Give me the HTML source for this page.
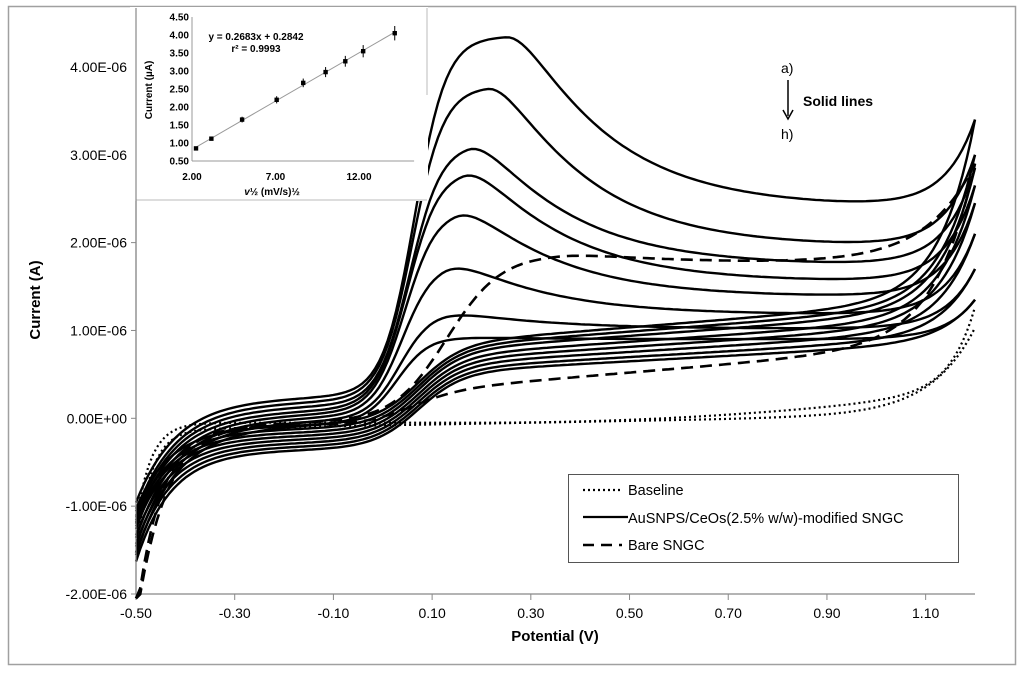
<!DOCTYPE html>
<html><head><meta charset="utf-8"><style>
html,body{margin:0;padding:0;background:#fff;}
svg{display:block;font-family:"Liberation Sans",sans-serif;}
</style></head><body>
<svg id="chart" width="1024" height="674" viewBox="0 0 1024 674" xmlns="http://www.w3.org/2000/svg">
<rect x="8.5" y="6.5" width="1007" height="658" fill="#fff" stroke="#a0a0a0" stroke-width="1.5"/>
<g id="main"></g>
<g id="inset"></g>
<g>
<rect x="568.5" y="474.5" width="390" height="88" fill="#fff" stroke="#555" stroke-width="1"/>
<line x1="583" y1="490" x2="622" y2="490" stroke="#000" stroke-width="2.2" stroke-dasharray="2,3"/>
<text x="628" y="495" font-size="14.5">Baseline</text>
<line x1="583" y1="517" x2="628" y2="517" stroke="#000" stroke-width="2.2"/>
<text x="628" y="523" font-size="14.5">AuSNPS/CeOs(2.5% w/w)-modified SNGC</text>
<line x1="583" y1="545" x2="622" y2="545" stroke="#000" stroke-width="2.5" stroke-dasharray="11,7"/>
<text x="628" y="550" font-size="14.5">Bare SNGC</text>
</g>
<g>
<text x="781" y="73" font-size="14">a)</text>
<line x1="788" y1="80" x2="788" y2="116" stroke="#000" stroke-width="1.5"/>
<path d="M783,110 L788,119 L793,110" fill="none" stroke="#000" stroke-width="1.5"/>
<text x="803" y="106" font-size="14" font-weight="bold">Solid lines</text>
<text x="781" y="139" font-size="14">h)</text>
</g>
</svg>
<script>
// ===== main chart data =====
const xTicks = [-0.5,-0.3,-0.1,0.1,0.3,0.5,0.7,0.9,1.1];
const xTickLabels = ["-0.50","-0.30","-0.10","0.10","0.30","0.50","0.70","0.90","1.10"];
const yTicks = [-2e-6,-1e-6,0,1e-6,2e-6,3e-6,4e-6];
const yTickLabels = ["-2.00E-06","-1.00E-06","0.00E+00","1.00E-06","2.00E-06","3.00E-06","4.00E-06"];
// solid curves a)..h)
const peakCurrent = [4.35,3.78,3.13,2.83,2.38,1.78,1.22,0.93];      // µA
const peakPotential = [0.25,0.21,0.17,0.16,0.145,0.12,0.10,0.08];  // V
const halfWavePotential = [0.065,0.06,0.055,0.05,0.045,0.04,0.035,0.03]; // V
const plateauCurrent = [2.4,1.95,1.74,1.55,1.38,1.18,1.02,0.9];    // µA at 0.9 V
const endCurrent = [3.4,3.0,2.85,2.65,2.45,2.1,1.7,1.35];          // µA at 1.2 V
const reverseLevel = [1.0,0.95,0.9,0.83,0.77,0.71,0.65,0.6];        // µA at 0.6 V reverse
const preWaveLevel = [0.25,0.2,0.15,0.1,0.06,0.02,-0.02,-0.06];     // µA at -0.1 V forward
const reversePreLevel = [-0.08,-0.12,-0.16,-0.2,-0.24,-0.28,-0.32,-0.36]; // µA reverse
const startCurrent = [-0.9,-1.0,-1.05,-1.1,-1.2,-1.3,-1.4,-1.5];   // µA at -0.5 V
// bare SNGC (dashed)
const barePeak = 1.87, barePeakE = 0.36, barePlateau = 1.75, bareEnd = 2.9, bareReverse = 0.52, bareStart = -2.3;
// baseline (dotted)
const baseForward = -0.05, baseEnd = 1.1, baseReverse = 0.0, baseMid = 0.15;

const X0=136,X1=975,Y0=594,Y1=23, xmin=-0.5,xmax=1.2,ymin=-2e-6,ymax=4.5e-6;
const sx=v=>X0+(v-xmin)/(xmax-xmin)*(X1-X0);
const sy=v=>Y0-(v-ymin)/(ymax-ymin)*(Y0-Y1);
const NS="http://www.w3.org/2000/svg";
const main=document.getElementById('main');
function mk(tag,attrs,parent){const e=document.createElementNS(NS,tag);for(const k in attrs)e.setAttribute(k,attrs[k]);(parent||main).appendChild(e);return e;}
const logi=(x)=>1/(1+Math.exp(-x));

function withEnd(f0,end,tau){const e0=f0(1.2);return E=>f0(E)+(end-e0)*Math.exp((E-1.2)/tau);}
// forward branch (µA)
function fwdBase(E,pre,start,pk,Ep,Ec,pl){
  const base=start+(pre-start)*(1-Math.exp(-(E+0.5)/0.08))+0.15*(E+0.1);
  const L=logi((E-Ec)/0.032);
  const d=Math.max(0,E-Ep), c=0.06;
  const g=Math.exp(-(Math.sqrt(d*d+c*c)-c)/0.18);
  const target=pl+(pk-pl)*g;
  const baseAtE=pre+0.15*(E+0.1);
  return base+L*(target-baseAtE);
}
function revBase(E,lvl,preR,start){
  const hi=lvl*(1+0.35*(E-0.6));
  const L=logi((E-0.07)/0.045);
  let v=preR+0.1*(E+0.2)+(hi-preR)*L;
  v+=(start-preR)*Math.exp(-(E+0.5)/0.07);
  return v;
}
function pathFor(fn){
  let d='';const N=200;
  for(let i=0;i<=N;i++){const E=xmin+(xmax-xmin)*i/N;d+=(i?'L':'M')+sx(E).toFixed(1)+','+sy(Math.max(fn(E),-2.05)*1e-6).toFixed(1);}
  return d;
}
// axes
mk('line',{x1:X0,y1:Y1-14,x2:X0,y2:Y0,stroke:'#888','stroke-width':1.2,});
mk('line',{x1:X0,y1:Y0,x2:X1,y2:Y0,stroke:'#888','stroke-width':1.2,});
yTicks.forEach((t,i)=>{
  const tk=mk('line',{x1:X0-5,y1:sy(t),x2:X0,y2:sy(t),stroke:'#888'});
  
  
  const tx=mk('text',{x:X0-9,y:sy(t)+5,'text-anchor':'end','font-size':14});
  
  
  tx.textContent=yTickLabels[i];
});
xTicks.forEach((t,i)=>{
  const tk=mk('line',{x1:sx(t),y1:Y0,x2:sx(t),y2:Y0+6,stroke:'#888'});
  
  
  const tx=mk('text',{x:sx(t),y:Y0+24,'text-anchor':'middle','font-size':14});
  
  
  tx.textContent=xTickLabels[i];
});
let t=mk('text',{x:555,y:641,'text-anchor':'middle','font-size':15,'font-weight':'bold'});


t.textContent='Potential (V)';
t=mk('text',{x:0,y:0,'text-anchor':'middle','font-size':15,'font-weight':'bold',transform:'translate(40,300) rotate(-90)'});


t.textContent='Current (A)';

// baseline dotted
const bf=E=>baseForward+(baseMid-baseForward)*Math.max(0,(E-0.2)/0.7)**2*0.9+ (baseEnd-baseMid)*Math.exp((E-1.2)/0.05)+(-1.2-baseForward)*Math.exp(-(E+0.5)/0.03);
const br=E=>baseReverse-0.06+0.1*(E-0.2)+(baseEnd*0.9)*Math.exp((E-1.2)/0.09)+(-1.4)*Math.exp(-(E+0.5)/0.03);
[bf,br].forEach(fn=>{const p=mk('path',{d:pathFor(fn),fill:'none',stroke:'#000','stroke-width':2.2,'stroke-dasharray':'2,3'});

});

// bare dashed
const bareF0=E=>{const start=bareStart;let base=start+(-0.05-start)*(1-Math.exp(-(E+0.5)/0.06));
 const L=logi((E-0.13)/0.055);const d=Math.max(0,E-barePeakE),c=0.06;const g=Math.exp(-(Math.sqrt(d*d+c*c)-c)/0.25);
 return base+L*(barePlateau+(barePeak-barePlateau)*g+0.05);};
const bareF=withEnd(bareF0,bareEnd,0.1);
const bareR0=E=>{const hi=bareReverse*(1+0.9*(E-0.5));const L=logi((E-0.05)/0.05);
 return -0.08+(hi+0.08)*L+(bareStart+0.1)*Math.exp(-(E+0.5)/0.05);};
const bareR=withEnd(bareR0,bareEnd,0.08);
[bareF,bareR].forEach(fn=>{const p=mk('path',{d:pathFor(fn),fill:'none',stroke:'#000','stroke-width':2.6,'stroke-dasharray':'12,7'});

});

// solid curves
peakCurrent.forEach((pk,i)=>{
  const f=withEnd(E=>fwdBase(E,preWaveLevel[i],startCurrent[i],pk,peakPotential[i],halfWavePotential[i],plateauCurrent[i]),endCurrent[i],0.06);
  const r=withEnd(E=>revBase(E,reverseLevel[i],reversePreLevel[i],startCurrent[i]-0.1),endCurrent[i],0.07);
  const p1=mk('path',{d:pathFor(f),fill:'none',stroke:'#000','stroke-width':2.4});
  
  
  const p2=mk('path',{d:pathFor(r),fill:'none',stroke:'#000','stroke-width':2.4});
  
  
});

// ===== inset data =====
const insetX = [2.24,3.16,5.0,7.07,8.66,10.0,11.18,12.25,14.14];
const insetY = [0.85,1.12,1.65,2.2,2.67,2.97,3.27,3.55,4.05];
const insetErr = [0.04,0.05,0.08,0.1,0.12,0.14,0.15,0.17,0.2];
const insetYTicks = [0.5,1.0,1.5,2.0,2.5,3.0,3.5,4.0,4.5];
const insetYLabels = ["0.50","1.00","1.50","2.00","2.50","3.00","3.50","4.00","4.50"];
const insetXTicks = [2,7,12];
const insetXLabels = ["2.00","7.00","12.00"];
const fitSlope = 0.2683, fitIntercept = 0.2842;
const inset=document.getElementById('inset');
const ix=v=>192+(v-2)/5*83.5, iy=v=>161-(v-0.5)/0.5*18;
mk('rect',{x:130,y:7,width:298,height:194,fill:'#fff',},inset);
mk('line',{x1:136,y1:200,x2:427,y2:200,stroke:'#bbb',},inset);
mk('line',{x1:427,y1:8,x2:427,y2:95,stroke:'#bbb',},inset);
mk('line',{x1:136,y1:8,x2:136,y2:594,stroke:'#888','stroke-width':1.2,},inset);
mk('line',{x1:ix(2),y1:iy(4.5),x2:ix(2),y2:iy(0.5),stroke:'#999',},inset);
mk('line',{x1:ix(2),y1:iy(0.5),x2:ix(15.3),y2:iy(0.5),stroke:'#999',},inset);
insetYTicks.forEach((v,i)=>{
  const e=mk('text',{x:ix(2)-3,y:iy(v)+3.5,'text-anchor':'end','font-size':10,'font-weight':'bold'},inset);
  
  
  e.textContent=insetYLabels[i];
});
insetXTicks.forEach((v,i)=>{
  const e=mk('text',{x:ix(v),y:180,'text-anchor':'middle','font-size':10,'font-weight':'bold'},inset);
  
  
  e.textContent=insetXLabels[i];
});
const x0f=insetX[0],x1f=insetX[insetX.length-1];
mk('line',{x1:ix(x0f),y1:iy(fitSlope*x0f+fitIntercept),x2:ix(x1f),y2:iy(fitSlope*x1f+fitIntercept),stroke:'#999','stroke-width':1,},inset);
insetX.forEach((x,i)=>{
  const y=insetY[i];
  const eb=mk('line',{x1:ix(x),y1:iy(y+insetErr[i]),x2:ix(x),y2:iy(y-insetErr[i]),stroke:'#000','stroke-width':1},inset);
  
  
  const pt=mk('rect',{x:ix(x)-2.2,y:iy(y)-2.2,width:4.4,height:4.4,fill:'#000'},inset);
  
  
});
let e=mk('text',{x:256,y:40,'text-anchor':'middle','font-size':10,'font-weight':'bold'},inset);


e.textContent='y = 0.2683x + 0.2842';
e=mk('text',{x:256,y:52,'text-anchor':'middle','font-size':10,'font-weight':'bold'},inset);


e.textContent='r² = 0.9993';
e=mk('text',{x:272,y:195,'text-anchor':'middle','font-size':10,'font-weight':'bold'},inset);


e.innerHTML='<tspan font-style="italic">v</tspan>½ (mV/s)½';
e=mk('text',{x:0,y:0,'text-anchor':'middle','font-size':10,'font-weight':'bold',transform:'translate(152,90) rotate(-90)'},inset);


e.textContent='Current (µA)';
</script>
</body></html>
